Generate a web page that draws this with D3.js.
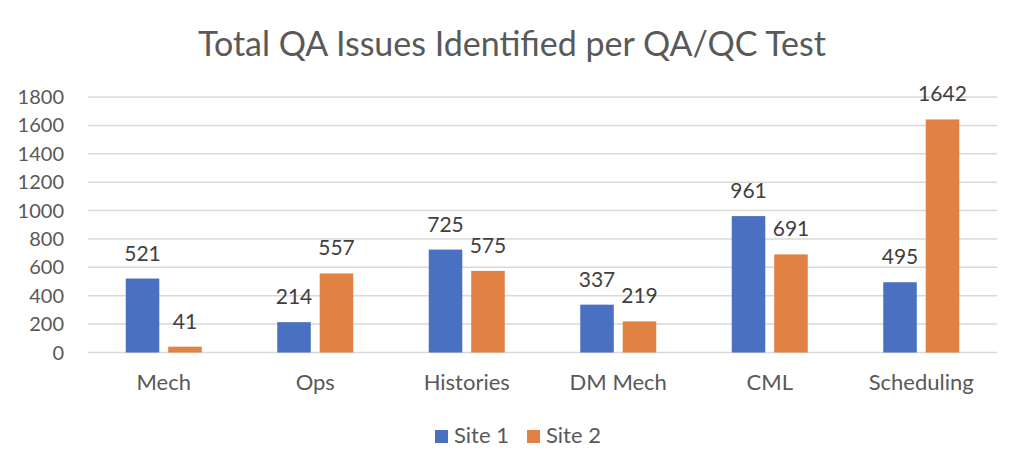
<!DOCTYPE html>
<html lang="en">
<head>
  <meta charset="UTF-8">
  <title>Total QA Issues Identified per QA/QC Test</title>
  <script src="https://d3js.org/d3.v7.min.js"></script>
  <style>
    body { margin: 0; background: #fff; }
    text { font-family: 'Lato', 'Open Sans', sans-serif; fill: #595959; }
    .grid line { stroke: #d9d9d9; stroke-width: 1.5px; }
    .value { fill: #404040; }
  </style>
</head>
<body>
  <div id="chart"></div>
  <script>
    // chart data
    const categories = ['Mech', 'Ops', 'Histories', 'DM Mech', 'CML', 'Scheduling'];
    const seriesNames = ['Site 1', 'Site 2'];
    const site1 = [521, 214, 725, 337, 961, 495];
    const site2 = [41, 557, 575, 219, 691, 1642];
    const yTicks = [0, 200, 400, 600, 800, 1000, 1200, 1400, 1600, 1800];
    const colors = ['#4A71C1', '#DF8243'];

    const width = 1024;
    const height = 472;
    const margin = { top: 97, right: 27, bottom: 120, left: 88 };

    const svg = d3.select('#chart').append('svg')
      .attr('width', width)
      .attr('height', height);

    const x = d3.scaleBand()
      .domain(categories)
      .range([margin.left, width - margin.right])
      .paddingInner(0)
      .paddingOuter(0);

    const y = d3.scaleLinear()
      .domain([0, 1800])
      .range([height - margin.bottom + 0.5, margin.top]);

    // inner band for the two series
    const xs = d3.scaleBand()
      .domain(seriesNames)
      .range([x.bandwidth() / 2 - 38, x.bandwidth() / 2 + 38])
      .paddingInner(0.21);

    // gridlines
    svg.append('g').attr('class', 'grid')
      .selectAll('line')
      .data(yTicks)
      .enter().append('line')
      .attr('x1', margin.left)
      .attr('x2', width - margin.right)
      .attr('y1', d => y(d))
      .attr('y2', d => y(d));

    // y tick labels
    svg.append('g')
      .selectAll('text')
      .data(yTicks)
      .enter().append('text')
      .attr('x', 64)
      .attr('y', d => y(d) + 7)
      .attr('text-anchor', 'end')
      .style('font-size', '20px')
      .text(d => d);

    // bars
    const rows = categories.map((c, i) => ({ cat: c, values: [site1[i], site2[i]] }));
    const groups = svg.append('g')
      .selectAll('g')
      .data(rows)
      .enter().append('g')
      .attr('transform', d => `translate(${x(d.cat)},0)`);

    groups.selectAll('rect')
      .data(d => d.values.map((v, j) => ({ name: seriesNames[j], value: v, j: j })))
      .enter().append('rect')
      .attr('x', d => xs(d.name))
      .attr('width', xs.bandwidth())
      .attr('y', d => y(d.value))
      .attr('height', d => y(0) - y(d.value))
      .attr('fill', d => colors[d.j]);

    groups.selectAll('text.value')
      .data(d => d.values.map((v, j) => ({ name: seriesNames[j], value: v })))
      .enter().append('text')
      .attr('class', 'value')
      .attr('x', d => xs(d.name) + xs.bandwidth() / 2)
      .attr('y', d => y(d.value) - 18)
      .attr('text-anchor', 'middle')
      .style('font-size', '21px')
      .text(d => d.value);

    // category labels
    svg.append('g')
      .selectAll('text')
      .data(categories)
      .enter().append('text')
      .attr('x', d => x(d) + x.bandwidth() / 2)
      .attr('y', 390)
      .attr('text-anchor', 'middle')
      .style('font-size', '22px')
      .text(d => d);

    // title
    svg.append('text')
      .attr('x', 512)
      .attr('y', 56)
      .attr('text-anchor', 'middle')
      .style('font-size', '34px')
      .text('Total QA Issues Identified per QA/QC Test');

    // legend
    const legend = svg.append('g')
      .selectAll('g')
      .data(seriesNames)
      .enter().append('g')
      .attr('transform', (d, i) => `translate(${435 + i * 92},430)`);

    legend.append('rect')
      .attr('width', 13)
      .attr('height', 13)
      .attr('fill', (d, i) => colors[i]);

    legend.append('text')
      .attr('x', 19)
      .attr('y', 13)
      .style('font-size', '22px')
      .text(d => d);
  </script>
</body>
</html>
